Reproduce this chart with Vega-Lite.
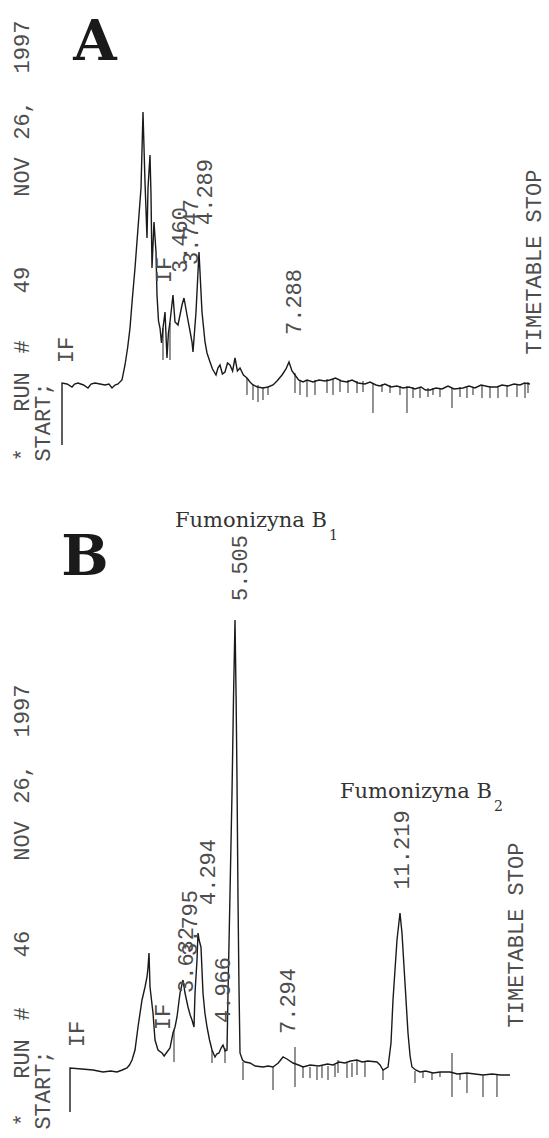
{
  "$schema": "https://vega.github.io/schema/vega-lite/v6.json",
  "padding": 0,
  "spacing": 0,
  "background": "white",
  "config": {"view": {"stroke": null}, "concat": {"spacing": 0}},
  "datasets": {
    "traceA": [
      {"time": -0.267, "signal": -62}, {"time": -0.266, "signal": 0}, {"time": -0.1, "signal": -1}, {"time": 0.067, "signal": -4}, {"time": 0.15, "signal": -1}, {"time": 0.267, "signal": 0}, {"time": 0.45, "signal": -2}, {"time": 0.6, "signal": -5}, {"time": 0.7, "signal": -1}, {"time": 0.833, "signal": 0}, {"time": 1.0, "signal": -1}, {"time": 1.167, "signal": -2}, {"time": 1.3, "signal": -1}, {"time": 1.4, "signal": -5}, {"time": 1.5, "signal": -2}, {"time": 1.6, "signal": -1}, {"time": 1.733, "signal": 3}, {"time": 1.833, "signal": 18}, {"time": 1.92, "signal": 35}, {"time": 2.0, "signal": 55}, {"time": 2.08, "signal": 85}, {"time": 2.167, "signal": 115}, {"time": 2.267, "signal": 155}, {"time": 2.367, "signal": 195}, {"time": 2.433, "signal": 271}, {"time": 2.5, "signal": 201}, {"time": 2.567, "signal": 145}, {"time": 2.6, "signal": 195}, {"time": 2.667, "signal": 228}, {"time": 2.7, "signal": 188}, {"time": 2.733, "signal": 115}, {"time": 2.8, "signal": 161}, {"time": 2.867, "signal": 131}, {"time": 2.9, "signal": 88}, {"time": 2.95, "signal": 62}, {"time": 3.0, "signal": 55}, {"time": 3.05, "signal": 40}, {"time": 3.1, "signal": 55}, {"time": 3.167, "signal": 71}, {"time": 3.233, "signal": 25}, {"time": 3.28, "signal": 50}, {"time": 3.333, "signal": 61}, {"time": 3.433, "signal": 88}, {"time": 3.5, "signal": 61}, {"time": 3.6, "signal": 58}, {"time": 3.733, "signal": 78}, {"time": 3.8, "signal": 85}, {"time": 3.9, "signal": 68}, {"time": 4.0, "signal": 52}, {"time": 4.067, "signal": 41}, {"time": 4.1, "signal": 31}, {"time": 4.2, "signal": 71}, {"time": 4.3, "signal": 131}, {"time": 4.4, "signal": 71}, {"time": 4.5, "signal": 41}, {"time": 4.567, "signal": 30}, {"time": 4.667, "signal": 21}, {"time": 4.75, "signal": 14}, {"time": 4.867, "signal": 8}, {"time": 4.93, "signal": 15}, {"time": 5.0, "signal": 18}, {"time": 5.08, "signal": 9}, {"time": 5.167, "signal": 11}, {"time": 5.25, "signal": 20}, {"time": 5.333, "signal": 18}, {"time": 5.42, "signal": 12}, {"time": 5.5, "signal": 25}, {"time": 5.58, "signal": 12}, {"time": 5.667, "signal": 15}, {"time": 5.78, "signal": 8}, {"time": 5.9, "signal": 5}, {"time": 6.0, "signal": 1}, {"time": 6.1, "signal": -2}, {"time": 6.25, "signal": -4}, {"time": 6.433, "signal": -5}, {"time": 6.6, "signal": -4}, {"time": 6.767, "signal": -2}, {"time": 6.9, "signal": 2}, {"time": 7.067, "signal": 8}, {"time": 7.2, "signal": 14}, {"time": 7.3, "signal": 21}, {"time": 7.4, "signal": 12}, {"time": 7.5, "signal": 8}, {"time": 7.62, "signal": 3}, {"time": 7.767, "signal": 1}, {"time": 7.9, "signal": 3}, {"time": 8.1, "signal": 1}, {"time": 8.3, "signal": 3}, {"time": 8.5, "signal": 2}, {"time": 8.667, "signal": 3}, {"time": 8.85, "signal": 5}, {"time": 9.05, "signal": 2}, {"time": 9.233, "signal": 1}, {"time": 9.4, "signal": 3}, {"time": 9.6, "signal": 0}, {"time": 9.833, "signal": -1}, {"time": 10.0, "signal": 1}, {"time": 10.2, "signal": -2}, {"time": 10.333, "signal": -3}, {"time": 10.5, "signal": -1}, {"time": 10.7, "signal": -4}, {"time": 10.9, "signal": -3}, {"time": 11.1, "signal": -5}, {"time": 11.3, "signal": -4}, {"time": 11.5, "signal": -6}, {"time": 11.7, "signal": -4}, {"time": 11.85, "signal": -7}, {"time": 12.0, "signal": -7}, {"time": 12.2, "signal": -5}, {"time": 12.4, "signal": -6}, {"time": 12.6, "signal": -3}, {"time": 12.8, "signal": -6}, {"time": 13.1, "signal": -5}, {"time": 13.3, "signal": -3}, {"time": 13.5, "signal": -5}, {"time": 13.7, "signal": -2}, {"time": 14.0, "signal": -4}, {"time": 14.233, "signal": -4}, {"time": 14.4, "signal": -2}, {"time": 14.6, "signal": -3}, {"time": 14.8, "signal": -1}, {"time": 15.0, "signal": -2}, {"time": 15.15, "signal": 0}, {"time": 15.333, "signal": -1}
    ],
    "spikesA": [
      {"time": 3.1, "top": 55, "bottom": 23}, {"time": 3.333, "top": 60, "bottom": 23}, {"time": 5.9, "top": 5, "bottom": -12}, {"time": 6.1, "top": -1, "bottom": -17}, {"time": 6.267, "top": -2, "bottom": -19}, {"time": 6.433, "top": -4, "bottom": -17}, {"time": 6.6, "top": -4, "bottom": -12},
      {"time": 7.5, "top": 10, "bottom": -10}, {"time": 7.667, "top": 3, "bottom": -12}, {"time": 7.9, "top": 3, "bottom": -14}, {"time": 8.167, "top": 3, "bottom": -12}, {"time": 8.567, "top": 4, "bottom": -10}, {"time": 8.767, "top": 4, "bottom": -12}, {"time": 9.0, "top": 3, "bottom": -9}, {"time": 9.267, "top": 3, "bottom": -10}, {"time": 9.567, "top": 2, "bottom": -10}, {"time": 9.767, "top": 2, "bottom": -9}, {"time": 10.1, "top": 0, "bottom": -30}, {"time": 10.4, "top": -1, "bottom": -9}, {"time": 10.667, "top": -2, "bottom": -10}, {"time": 11.0, "top": -3, "bottom": -12}, {"time": 11.233, "top": -3, "bottom": -30}, {"time": 11.433, "top": -4, "bottom": -15}, {"time": 11.667, "top": -4, "bottom": -15}, {"time": 11.933, "top": -5, "bottom": -14}, {"time": 12.1, "top": -5, "bottom": -12}, {"time": 12.333, "top": -5, "bottom": -14}, {"time": 12.733, "top": -5, "bottom": -25}, {"time": 13.0, "top": -4, "bottom": -14}, {"time": 13.233, "top": -4, "bottom": -15}, {"time": 13.433, "top": -4, "bottom": -12}, {"time": 13.733, "top": -3, "bottom": -15}, {"time": 14.0, "top": -3, "bottom": -15}, {"time": 14.267, "top": -3, "bottom": -15}, {"time": 14.567, "top": -2, "bottom": -14}, {"time": 14.9, "top": -1, "bottom": -14}, {"time": 15.167, "top": 0, "bottom": -15}, {"time": 15.267, "top": 1, "bottom": -10}
    ],
    "printA": [
      {"text": "*", "time": -1.6, "signal": -72}, {"text": "RUN", "time": -1.6, "signal": -9}, {"text": "#", "time": -1.6, "signal": 36}, {"text": "49", "time": -1.6, "signal": 103}, {"text": "NOV", "time": -1.6, "signal": 206}, {"text": "26,", "time": -1.6, "signal": 263}, {"text": "1997", "time": -1.6, "signal": 336},
      {"text": "START;", "time": -0.9, "signal": -39}, {"text": "IF", "time": -0.133, "signal": 33}, {"text": "IF", "time": 3.133, "signal": 113}, {"text": "3.460", "time": 3.667, "signal": 143}, {"text": "3.747", "time": 4.033, "signal": 151}, {"text": "4.289", "time": 4.5, "signal": 191}, {"text": "7.288", "time": 7.467, "signal": 81}, {"text": "TIMETABLE STOP", "time": 15.467, "signal": 121}
    ],
    "letterA": [{"text": "A", "time": 0.833, "signal": 323}],
    "traceB": [
      {"time": -0.208, "signal": -44}, {"time": -0.207, "signal": 0}, {"time": 0.2, "signal": -1}, {"time": 0.588, "signal": -2}, {"time": 0.934, "signal": -4}, {"time": 1.2, "signal": -3}, {"time": 1.419, "signal": -4}, {"time": 1.6, "signal": -2}, {"time": 1.765, "signal": 0}, {"time": 1.85, "signal": 3}, {"time": 1.938, "signal": 8}, {"time": 2.042, "signal": 18}, {"time": 2.145, "signal": 41}, {"time": 2.284, "signal": 68}, {"time": 2.388, "signal": 81}, {"time": 2.457, "signal": 91}, {"time": 2.49, "signal": 100}, {"time": 2.526, "signal": 115}, {"time": 2.561, "signal": 81}, {"time": 2.664, "signal": 55}, {"time": 2.734, "signal": 28}, {"time": 2.837, "signal": 18}, {"time": 2.976, "signal": 15}, {"time": 3.05, "signal": 12}, {"time": 3.149, "signal": 16}, {"time": 3.253, "signal": 20}, {"time": 3.356, "signal": 35}, {"time": 3.426, "signal": 41}, {"time": 3.495, "signal": 51}, {"time": 3.599, "signal": 75}, {"time": 3.702, "signal": 88}, {"time": 3.772, "signal": 75}, {"time": 3.875, "signal": 61}, {"time": 3.95, "signal": 53}, {"time": 4.014, "signal": 48}, {"time": 4.083, "signal": 41}, {"time": 4.118, "signal": 75}, {"time": 4.187, "signal": 108}, {"time": 4.221, "signal": 135}, {"time": 4.26, "signal": 128}, {"time": 4.325, "signal": 121}, {"time": 4.394, "signal": 75}, {"time": 4.46, "signal": 55}, {"time": 4.533, "signal": 41}, {"time": 4.62, "signal": 28}, {"time": 4.706, "signal": 18}, {"time": 4.81, "signal": 11}, {"time": 4.87, "signal": 14}, {"time": 4.948, "signal": 15}, {"time": 5.02, "signal": 20}, {"time": 5.087, "signal": 23}, {"time": 5.16, "signal": 17}, {"time": 5.225, "signal": 18}, {"time": 5.26, "signal": 75}, {"time": 5.329, "signal": 175}, {"time": 5.398, "signal": 275}, {"time": 5.45, "signal": 370}, {"time": 5.502, "signal": 448}, {"time": 5.54, "signal": 370}, {"time": 5.571, "signal": 288}, {"time": 5.606, "signal": 168}, {"time": 5.64, "signal": 80}, {"time": 5.675, "signal": 15}, {"time": 5.76, "signal": 8}, {"time": 5.848, "signal": 6}, {"time": 6.021, "signal": 5}, {"time": 6.2, "signal": 2}, {"time": 6.471, "signal": 1}, {"time": 6.65, "signal": 2}, {"time": 6.817, "signal": 1}, {"time": 7.0, "signal": 5}, {"time": 7.163, "signal": 11}, {"time": 7.3, "signal": 9}, {"time": 7.509, "signal": 5}, {"time": 7.7, "signal": 3}, {"time": 7.855, "signal": 1}, {"time": 8.1, "signal": 3}, {"time": 8.4, "signal": 2}, {"time": 8.7, "signal": 4}, {"time": 8.893, "signal": 3}, {"time": 9.1, "signal": 6}, {"time": 9.3, "signal": 5}, {"time": 9.5, "signal": 7}, {"time": 9.723, "signal": 8}, {"time": 9.9, "signal": 6}, {"time": 10.1, "signal": 7}, {"time": 10.415, "signal": 6}, {"time": 10.52, "signal": 3}, {"time": 10.623, "signal": -2}, {"time": 10.796, "signal": 1}, {"time": 10.9, "signal": 25}, {"time": 10.969, "signal": 68}, {"time": 11.107, "signal": 128}, {"time": 11.211, "signal": 155}, {"time": 11.28, "signal": 135}, {"time": 11.384, "signal": 85}, {"time": 11.488, "signal": 35}, {"time": 11.56, "signal": 12}, {"time": 11.626, "signal": 1}, {"time": 11.75, "signal": -2}, {"time": 11.903, "signal": -4}, {"time": 12.1, "signal": -3}, {"time": 12.353, "signal": -5}, {"time": 12.6, "signal": -4}, {"time": 12.941, "signal": -4}, {"time": 13.2, "signal": -6}, {"time": 13.529, "signal": -5}, {"time": 13.8, "signal": -6}, {"time": 14.083, "signal": -7}, {"time": 14.4, "signal": -6}, {"time": 14.7, "signal": -7}, {"time": 15.017, "signal": -7}
    ],
    "spikesB": [
      {"time": 3.391, "top": 38, "bottom": 6}, {"time": 4.706, "top": 18, "bottom": 5}, {"time": 5.156, "top": 20, "bottom": 5}, {"time": 5.779, "top": 6, "bottom": -12}, {"time": 6.817, "top": 1, "bottom": -22}, {"time": 7.578, "top": 21, "bottom": -19}, {"time": 7.855, "top": 1, "bottom": -10}, {"time": 8.097, "top": 1, "bottom": -10}, {"time": 8.339, "top": 1, "bottom": -12}, {"time": 8.512, "top": 2, "bottom": -10}, {"time": 8.72, "top": 2, "bottom": -12}, {"time": 8.962, "top": 3, "bottom": -9}, {"time": 9.066, "top": 8, "bottom": -5}, {"time": 9.377, "top": 5, "bottom": -10}, {"time": 9.55, "top": 5, "bottom": -9}, {"time": 9.723, "top": 8, "bottom": -7}, {"time": 10.0, "top": 7, "bottom": -9}, {"time": 10.623, "top": -2, "bottom": -12}, {"time": 11.73, "top": -3, "bottom": -15}, {"time": 12.007, "top": -4, "bottom": -10}, {"time": 12.318, "top": -5, "bottom": -12}, {"time": 12.595, "top": -4, "bottom": -9}, {"time": 13.01, "top": 15, "bottom": -29}, {"time": 13.287, "top": -5, "bottom": -12}, {"time": 13.529, "top": -5, "bottom": -25}, {"time": 14.083, "top": -7, "bottom": -29}, {"time": 14.567, "top": -7, "bottom": -29}
    ],
    "printB": [
      {"text": "*", "time": -1.869, "signal": -52}, {"text": "RUN", "time": -1.869, "signal": 9}, {"text": "#", "time": -1.869, "signal": 54}, {"text": "46", "time": -1.869, "signal": 124}, {"text": "NOV", "time": -1.869, "signal": 227}, {"text": "26,", "time": -1.869, "signal": 284}, {"text": "1997", "time": -1.869, "signal": 357},
      {"text": "START;", "time": -1.142, "signal": -22}, {"text": "IF", "time": 0.035, "signal": 34}, {"text": "IF", "time": 3.01, "signal": 51}, {"text": "3.632", "time": 3.806, "signal": 108}, {"text": "3.795", "time": 3.945, "signal": 145}, {"text": "4.294", "time": 4.567, "signal": 196}, {"text": "4.966", "time": 5.087, "signal": 78}, {"text": "5.505", "time": 5.675, "signal": 500}, {"text": "7.294", "time": 7.336, "signal": 67}, {"text": "11.219", "time": 11.28, "signal": 218}, {"text": "TIMETABLE STOP", "time": 15.225, "signal": 133}
    ],
    "letterB": [{"text": "B", "time": 0.311, "signal": 493}],
    "nameB": [{"text": "Fumonizyna B", "time": 3.426, "signal": 541}, {"text": "Fumonizyna B", "time": 9.135, "signal": 270}],
    "subB": [{"text": "1", "time": 8.754, "signal": 528}, {"text": "2", "time": 14.464, "signal": 257}]
  },
  "vconcat": [
    {
      "width": 549,
      "height": 490,
      "layer": [
        {
          "data": {"name": "spikesA"},
          "mark": {"type": "rule", "color": "#262626", "strokeWidth": 1},
          "encoding": {
            "x": {"field": "time", "type": "quantitative", "scale": {"domain": [-2.3333, 15.9667], "nice": false, "zero": false}, "axis": null},
            "y": {"field": "top", "type": "quantitative", "scale": {"domain": [-107, 383], "nice": false, "zero": false}, "axis": null},
            "y2": {"field": "bottom"}
          }
        },
        {
          "data": {"name": "traceA"},
          "mark": {"type": "line", "color": "#1a1a1a", "strokeWidth": 1.4},
          "encoding": {
            "x": {"field": "time", "type": "quantitative", "scale": {"domain": [-2.3333, 15.9667], "nice": false, "zero": false}, "axis": null},
            "y": {"field": "signal", "type": "quantitative", "scale": {"domain": [-107, 383], "nice": false, "zero": false}, "axis": null}
          }
        },
        {
          "data": {"name": "printA"},
          "mark": {"type": "text", "angle": 270, "align": "center", "baseline": "middle", "font": "Liberation Mono", "fontSize": 22, "color": "#4d4d4d"},
          "encoding": {
            "x": {"field": "time", "type": "quantitative", "scale": {"domain": [-2.3333, 15.9667], "nice": false, "zero": false}, "axis": null},
            "y": {"field": "signal", "type": "quantitative", "scale": {"domain": [-107, 383], "nice": false, "zero": false}, "axis": null},
            "text": {"field": "text"}
          }
        },
        {
          "data": {"name": "letterA"},
          "mark": {"type": "text", "align": "center", "baseline": "alphabetic", "font": "DejaVu Serif", "fontWeight": "bold", "fontSize": 56, "color": "#1a1a1a"},
          "encoding": {
            "x": {"field": "time", "type": "quantitative", "scale": {"domain": [-2.3333, 15.9667], "nice": false, "zero": false}, "axis": null},
            "y": {"field": "signal", "type": "quantitative", "scale": {"domain": [-107, 383], "nice": false, "zero": false}, "axis": null},
            "text": {"field": "text"}
          }
        }
      ]
    },
    {
      "width": 549,
      "height": 648,
      "layer": [
        {
          "data": {"name": "spikesB"},
          "mark": {"type": "rule", "color": "#262626", "strokeWidth": 1},
          "encoding": {
            "x": {"field": "time", "type": "quantitative", "scale": {"domain": [-2.63, 16.367], "nice": false, "zero": false}, "axis": null},
            "y": {"field": "top", "type": "quantitative", "scale": {"domain": [-70, 578], "nice": false, "zero": false}, "axis": null},
            "y2": {"field": "bottom"}
          }
        },
        {
          "data": {"name": "traceB"},
          "mark": {"type": "line", "color": "#1a1a1a", "strokeWidth": 1.4},
          "encoding": {
            "x": {"field": "time", "type": "quantitative", "scale": {"domain": [-2.63, 16.367], "nice": false, "zero": false}, "axis": null},
            "y": {"field": "signal", "type": "quantitative", "scale": {"domain": [-70, 578], "nice": false, "zero": false}, "axis": null}
          }
        },
        {
          "data": {"name": "printB"},
          "mark": {"type": "text", "angle": 270, "align": "center", "baseline": "middle", "font": "Liberation Mono", "fontSize": 22, "color": "#4d4d4d"},
          "encoding": {
            "x": {"field": "time", "type": "quantitative", "scale": {"domain": [-2.63, 16.367], "nice": false, "zero": false}, "axis": null},
            "y": {"field": "signal", "type": "quantitative", "scale": {"domain": [-70, 578], "nice": false, "zero": false}, "axis": null},
            "text": {"field": "text"}
          }
        },
        {
          "data": {"name": "letterB"},
          "mark": {"type": "text", "align": "center", "baseline": "alphabetic", "font": "DejaVu Serif", "fontWeight": "bold", "fontSize": 56, "color": "#1a1a1a"},
          "encoding": {
            "x": {"field": "time", "type": "quantitative", "scale": {"domain": [-2.63, 16.367], "nice": false, "zero": false}, "axis": null},
            "y": {"field": "signal", "type": "quantitative", "scale": {"domain": [-70, 578], "nice": false, "zero": false}, "axis": null},
            "text": {"field": "text"}
          }
        },
        {
          "data": {"name": "nameB"},
          "mark": {"type": "text", "align": "left", "baseline": "alphabetic", "font": "DejaVu Serif", "fontSize": 21, "color": "#333333"},
          "encoding": {
            "x": {"field": "time", "type": "quantitative", "scale": {"domain": [-2.63, 16.367], "nice": false, "zero": false}, "axis": null},
            "y": {"field": "signal", "type": "quantitative", "scale": {"domain": [-70, 578], "nice": false, "zero": false}, "axis": null},
            "text": {"field": "text"}
          }
        },
        {
          "data": {"name": "subB"},
          "mark": {"type": "text", "align": "left", "baseline": "alphabetic", "font": "DejaVu Serif", "fontSize": 14, "color": "#333333"},
          "encoding": {
            "x": {"field": "time", "type": "quantitative", "scale": {"domain": [-2.63, 16.367], "nice": false, "zero": false}, "axis": null},
            "y": {"field": "signal", "type": "quantitative", "scale": {"domain": [-70, 578], "nice": false, "zero": false}, "axis": null},
            "text": {"field": "text"}
          }
        }
      ]
    }
  ]
}
